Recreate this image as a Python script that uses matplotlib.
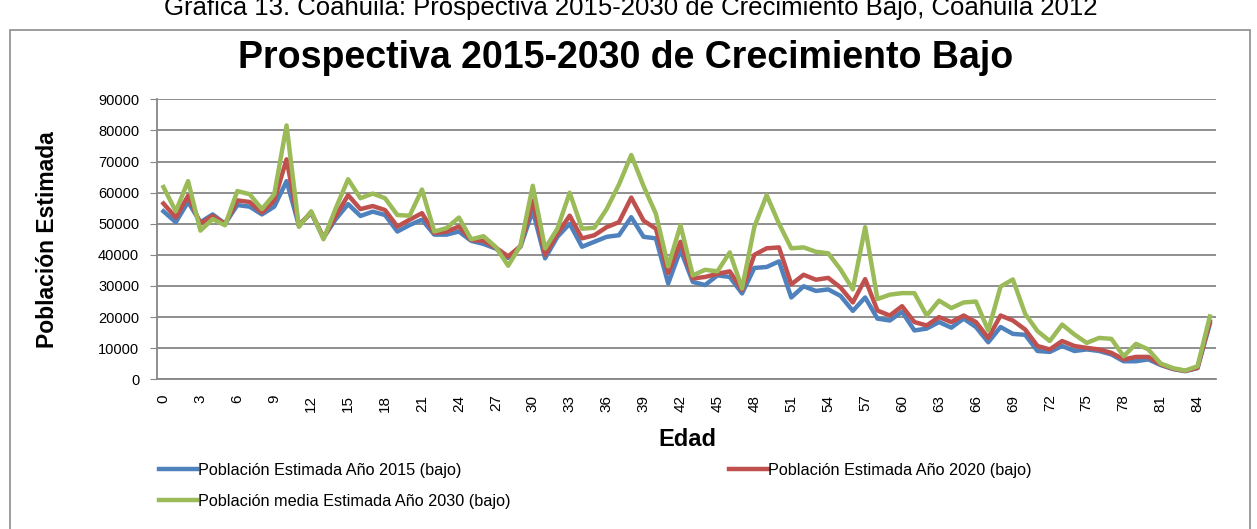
import matplotlib
matplotlib.use("Agg")
from matplotlib import pyplot as plt
from matplotlib.patches import Rectangle

# Ages 0..85
edades = list(range(86))

# Población estimada 2015 (bajo)
pob_2015 = [54000, 50500, 57000, 50500, 53000, 50000, 56000, 55500, 53000, 55500,
            63700, 49500, 53500, 45500, 51500, 56300, 52500, 53900, 52800, 47500,
            49600, 51300, 46500, 46500, 47500, 44500, 43500, 42000, 39000, 42600,
            54200, 38900, 45800, 50000, 42600, 44200, 45800, 46300, 52100, 45800,
            45300, 30800, 41600, 31300, 30300, 33400, 32900, 27600, 35800, 36100,
            37900, 26300, 29900, 28400, 28900, 26800, 22000, 26300, 19500, 18900,
            21700, 15700, 16300, 18400, 16600, 19500, 16800, 11900, 16800, 14600,
            14300, 9100, 8800, 10700, 9100, 9600, 9100, 8000, 5800, 5800,
            6400, 4600, 3300, 2600, 3600, 17800]

# Población estimada 2020 (bajo)
pob_2020 = [56500, 52000, 59000, 50000, 52500, 50000, 57500, 57000, 53600, 57500,
            70700, 49500, 53700, 45500, 52500, 59200, 54700, 55700, 54400, 49100,
            51300, 53400, 47000, 47500, 49100, 44800, 44500, 42300, 39500, 42800,
            57400, 40000, 46800, 52600, 45300, 46300, 48900, 50500, 58400, 51000,
            48400, 34200, 44200, 32400, 32900, 33900, 34700, 28700, 40000, 42100,
            42400, 30500, 33600, 32000, 32600, 29500, 24700, 32200, 22100, 20500,
            23500, 18400, 17300, 20000, 18400, 20500, 18400, 13300, 20500, 18900,
            16000, 10700, 9600, 12300, 10700, 10100, 9600, 8500, 6400, 7200,
            7200, 4800, 3400, 2700, 3700, 18600]

# Población media estimada 2030 (bajo)
pob_2030 = [61800, 54000, 63700, 47800, 51500, 49500, 60500, 59500, 54700, 59500,
            81600, 49000, 54000, 45000, 55000, 64300, 58200, 59700, 58200, 52800,
            52600, 61000, 47500, 48600, 52000, 45000, 46000, 42500, 36500, 43000,
            62200, 42100, 48400, 60000, 48400, 48700, 54700, 62600, 72100, 62100,
            53200, 36300, 49500, 33400, 35200, 34700, 40800, 29200, 49000, 59200,
            50000, 42100, 42400, 41000, 40500, 35300, 28900, 48900, 25800, 27200,
            27700, 27700, 20500, 25300, 22900, 24700, 25000, 15700, 29800, 32100,
            21000, 15500, 12300, 17600, 14400, 11700, 13300, 13000, 7400, 11400,
            9600, 5100, 3600, 2800, 4200, 20200]

etiquetas = ["Población Estimada Año 2015 (bajo)",
             "Población Estimada Año 2020 (bajo)",
             "Población media Estimada Año 2030 (bajo)"]

plt.rcParams["font.family"] = ["Liberation Sans", "DejaVu Sans"]

fig = plt.figure(figsize=(12.57, 5.29), dpi=100)

# Outer chart frame
fig.patches.append(Rectangle((10 / 1257, -0.05), 1240 / 1257, 1 - 30 / 529 + 0.05,
                             transform=fig.transFigure, fill=False,
                             edgecolor="#8c8c8c", linewidth=1.2))

# Caption (cut at the top in the original)
fig.text(0.502, 1 - 15 / 529, "Gráfica 13. Coahuila: Prospectiva 2015-2030 de Crecimiento Bajo, Coahuila 2012",
         ha="center", va="baseline", fontsize=18.5)

ax = fig.add_axes([157.3 / 1257, 1 - 379.3 / 529, (1216 - 157.3) / 1257, 280 / 529])

l1, = ax.plot(edades, pob_2015, color="#4F81BD", linewidth=3.2, solid_joinstyle="round")
l2, = ax.plot(edades, pob_2020, color="#C0504D", linewidth=3.2, solid_joinstyle="round")
l3, = ax.plot(edades, pob_2030, color="#9BBB59", linewidth=3.2, solid_joinstyle="round")

ax.set_xlim(-0.5, 85.5)
ax.set_ylim(0, 90000)
ax.set_yticks(range(0, 90001, 10000))
ax.set_xticks(edades[::3])
ax.set_xticklabels([str(e) for e in edades[::3]], rotation=90, fontsize=11)
ax.tick_params(axis="y", labelsize=10.5, length=5, color="#868686", pad=8)
ax.tick_params(axis="x", length=0, pad=11)
ax.grid(axis="y", color="#868686", linewidth=1.3)
ax.set_axisbelow(True)
for s in ["top", "right"]:
    ax.spines[s].set_visible(False)
for s in ["left", "bottom"]:
    ax.spines[s].set_color("#868686")
    ax.spines[s].set_linewidth(1.3)

fig.text(0.498, 1 - 58 / 529, "Prospectiva 2015-2030 de Crecimiento Bajo",
         ha="center", va="center", fontsize=27, fontweight="bold")
fig.text(48 / 1257, 1 - 240 / 529, "Población Estimada", rotation=90,
         ha="center", va="center", fontsize=16.5, fontweight="bold")
fig.text(687 / 1257, 1 - 440 / 529, "Edad", ha="center", va="center",
         fontsize=17, fontweight="bold")

# Legend, row order: 2015, 2020 / 2030
fig.legend([l1, l3, l2], [etiquetas[0], etiquetas[2], etiquetas[1]],
           loc="upper left", bbox_to_anchor=(152 / 1257, 1 - 456 / 529),
           ncol=2, frameon=False, handlelength=2.35, handletextpad=0.05,
           columnspacing=13.5, labelspacing=1.0, borderaxespad=0,
           prop={"size": 11.7})

fig.savefig("out.png", dpi=100)
